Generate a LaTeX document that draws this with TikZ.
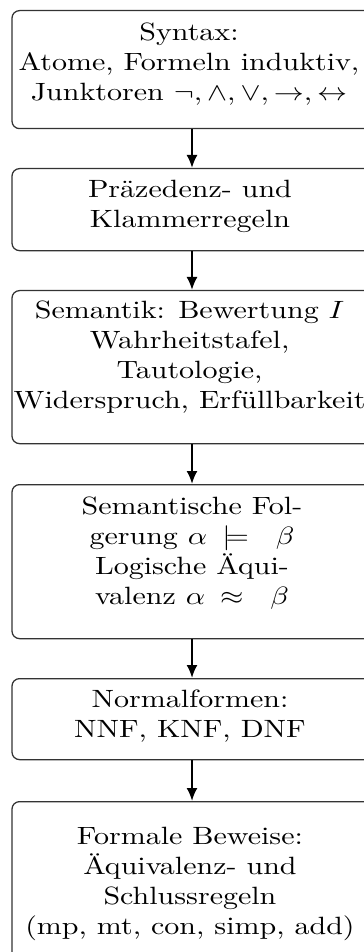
\documentclass[tikz,border=0pt]{standalone}
\usepackage{fontspec}
\usepackage{amsmath,amssymb}
\usetikzlibrary{arrows.meta}
\tikzset{
  stepbox/.style={draw=black!80, line width=0.5pt, rounded corners=3pt,
    minimum width=144pt, inner sep=0pt, anchor=north},
  steptext/.style={align=center, inner sep=0pt, anchor=north, font=\fontsize{10}{12}\selectfont},
  flow/.style={line width=0.8pt, -{Latex[length=5.2pt,width=4.4pt]}}
}
\begin{document}
\begin{tikzpicture}[x=0.4pt,y=-0.4pt]
\useasboundingbox (0,0) rectangle (364,952);
% boxes
\node[stepbox, minimum height=47.2pt] (b1) at (192,10) {};
\node[stepbox, minimum height=32.8pt] (b2) at (192,168) {};
\node[stepbox, minimum height=61.2pt] (b3) at (192,290) {};
\node[stepbox, minimum height=61.6pt] (b4) at (192,484) {};
\node[stepbox, minimum height=32.4pt] (b5) at (192,678) {};
\node[stepbox, minimum height=66pt] (b6) at (192,801) {};
% texts (horizontally stretched like the reference)
\begin{scope}[xscale=1.2, transform shape]
\node[steptext] (t1) at (157.5,19) {\strut Syntax:\\\strut Atome, Formeln induktiv,\\\strut Junktoren $\neg, \wedge, \vee, \to, \leftrightarrow$};
\node[steptext] (t2) at (158.3,175.75) {\strut Präzedenz- und\\\strut Klammerregeln};
\node[steptext] (t3) at (158,296.75) {\strut Semantik: Bewertung $I$\\\strut Wahrheitstafel,\\\strut Tautologie,\\\strut Widerspruch, Erfüllbarkeit};
\node[steptext] (t4) at (160,492.75) {\strut Semantische Fol-\\\strut gerung $\alpha\hspace{5pt}{\models}\hspace{9pt}\beta$\\\strut Logische Äqui-\\\strut valenz $\alpha\hspace{5pt}{\approx}\hspace{9pt}\beta$};
\node[steptext] (t5) at (158.3,685.75) {\strut Normalformen:\\\strut NNF, KNF, DNF};
\node[steptext] (t6) at (158.3,823) {\strut Formale Beweise:\\\strut Äquivalenz- und\\\strut Schlussregeln\\\strut (mp, mt, con, simp, add)};
\end{scope}
% connectors
\draw[flow] (b1.south) -- (b2.north);
\draw[flow] (b2.south) -- (b3.north);
\draw[flow] (b3.south) -- (b4.north);
\draw[flow] (b4.south) -- (b5.north);
\draw[flow] (b5.south) -- (b6.north);
\end{tikzpicture}
\end{document}
